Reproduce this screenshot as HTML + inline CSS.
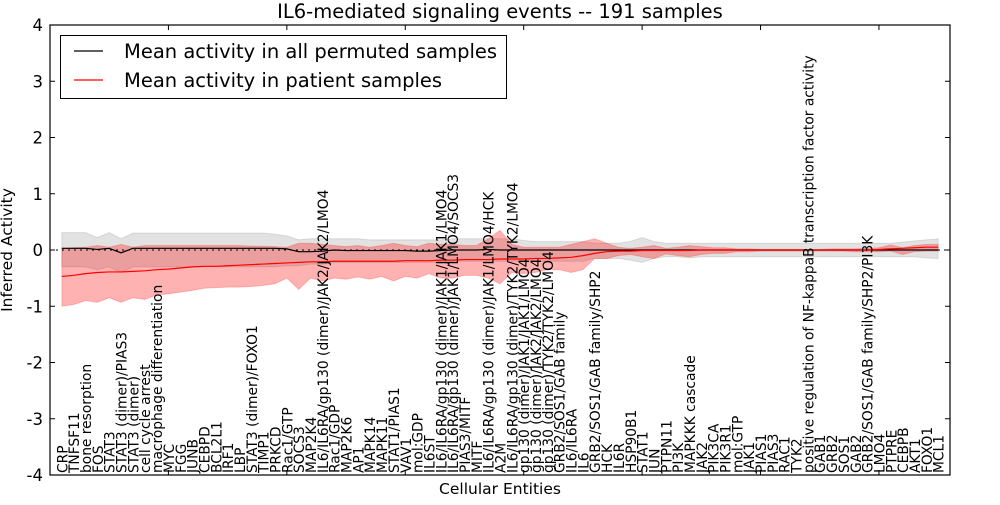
<!DOCTYPE html>
<html><head><meta charset="utf-8"><style>
body{margin:0;background:#fff;width:1000px;height:500px;overflow:hidden}
svg{font-family:"DejaVu Sans","Liberation Sans",sans-serif}
</style></head><body>
<svg id="chart" width="1000" height="500"></svg>
<script>
const categories=["CRP","TNFSF11","bone resorption","FOS","STAT3","STAT3 (dimer)/PIAS3","STAT3 (dimer)","cell cycle arrest","macrophage differentiation","MYC","FGG","JUNB","CEBPD","BCL2L1","IRF1","LBP","STAT3 (dimer)/FOXO1","TIMP1","PRKCD","Rac1/GTP","SOCS3","MAP2K4","IL6/IL6RA/gp130 (dimer)/JAK2/JAK2/LMO4","Rac1/GDP","MAP2K6","AP1","MAPK14","MAPK11","STAT1/PIAS1","VAV1","mol:GDP","IL6ST","IL6/IL6RA/gp130 (dimer)/JAK1/JAK1/LMO4","IL6/IL6RA/gp130 (dimer)/JAK1/LMO4/SOCS3","PIAS3/MITF","MITF","IL6/IL6RA/gp130 (dimer)/JAK1/LMO4/HCK","A2M","IL6/IL6RA/gp130 (dimer)/TYK2/TYK2/LMO4","gp130 (dimer)/JAK1/JAK1/LMO4","gp130 (dimer)/JAK2/JAK2/LMO4","gp130 (dimer)/TYK2/TYK2/LMO4","GRB2/SOS1/GAB family","IL6/IL6RA","IL6","GRB2/SOS1/GAB family/SHP2","HCK","IL6R","HSP90B1","STAT1","JUN","PTPN11","PI3K","MAPKKK cascade","JAK2","PIK3CA","PIK3R1","mol:GTP","JAK1","PIAS1","PIAS3","RAC1","TYK2","positive regulation of NF-kappaB transcription factor activity","GAB1","GRB2","SOS1","GAB2","GRB2/SOS1/GAB family/SHP2/PI3K","LMO4","PTPRE","CEBPB","AKT1","FOXO1","MCL1"];
const patientMean=[-0.47,-0.45,-0.42,-0.40,-0.39,-0.39,-0.38,-0.37,-0.35,-0.34,-0.32,-0.30,-0.29,-0.29,-0.28,-0.27,-0.26,-0.25,-0.24,-0.23,-0.22,-0.21,-0.21,-0.2,-0.2,-0.2,-0.2,-0.2,-0.2,-0.19,-0.19,-0.19,-0.18,-0.18,-0.17,-0.17,-0.17,-0.16,-0.16,-0.16,-0.15,-0.15,-0.14,-0.13,-0.10,-0.06,-0.03,-0.02,-0.02,-0.01,-0.01,-0.01,-0.01,-0.01,0,0,0,0,0,0,0,0,0,0,0,0,0,0,0,0.01,0.02,0.03,0.04,0.05,0.05];
const patientUpper=[0.03,0.04,0.05,0.08,0.05,0.1,0.05,0.08,0.08,0.08,0.08,0.08,0.08,0.08,0.08,0.08,0.07,0.07,0.06,0.05,0.12,0.12,0.1,0.08,0.06,0.08,0.05,0.08,0.12,0.08,0.06,0.12,0.1,0.1,0.08,0.08,0.2,0.35,0.1,0.05,0.05,0.05,0.05,0.1,0.15,0.2,0.12,0.05,0.03,0.05,0.08,0.03,0.05,0.08,0.06,0.04,0.04,0.02,0.02,0.01,0.01,0.01,0.01,0.01,0.01,0.02,0.02,0.02,0.03,0.04,0.09,0.04,0.08,0.1,0.1];
const patientLower=[-1.0,-0.97,-0.9,-0.93,-0.85,-0.93,-0.85,-0.88,-0.8,-0.78,-0.75,-0.72,-0.68,-0.67,-0.66,-0.66,-0.65,-0.63,-0.6,-0.5,-0.7,-0.5,-0.55,-0.5,-0.52,-0.48,-0.52,-0.47,-0.55,-0.47,-0.5,-0.42,-0.5,-0.5,-0.45,-0.45,-0.5,-0.6,-0.4,-0.42,-0.4,-0.35,-0.35,-0.4,-0.35,-0.15,-0.15,-0.1,-0.08,-0.12,-0.15,-0.07,-0.1,-0.12,-0.08,-0.06,-0.06,-0.03,-0.03,-0.02,-0.02,-0.02,-0.02,-0.02,-0.02,-0.02,-0.02,-0.03,-0.03,-0.03,-0.02,-0.08,-0.03,-0.02,-0.02];
const permMean=[0.03,0.03,0.03,0.01,0.03,-0.05,0.03,0.03,0.03,0.03,0.03,0.03,0.03,0.03,0.03,0.03,0.03,0.03,0.03,0.02,-0.03,-0.03,-0.02,0,-0.01,-0.01,-0.01,-0.01,-0.01,-0.01,-0.02,-0.02,-0.01,0,0,0,0.01,0,0,0,0,0,0,0,0,0,0,0,0,0,0,0,0,0,0,0,0,0,0,0,0,0,0,0,0,0,0,0,0,0,0,0,0,0,0];
const permUpper=[0.31,0.31,0.31,0.22,0.31,0.2,0.3,0.3,0.3,0.3,0.3,0.3,0.3,0.3,0.3,0.3,0.3,0.3,0.28,0.25,0.18,0.2,0.2,0.2,0.2,0.2,0.18,0.18,0.18,0.18,0.18,0.18,0.18,0.2,0.2,0.2,0.2,0.2,0.2,0.17,0.15,0.15,0.15,0.15,0.15,0.12,0.12,0.12,0.15,0.22,0.15,0.12,0.12,0.12,0.12,0.12,0.12,0.12,0.12,0.12,0.12,0.12,0.12,0.12,0.12,0.12,0.12,0.12,0.12,0.12,0.12,0.14,0.16,0.18,0.2];
const permLower=[-0.3,-0.3,-0.3,-0.35,-0.3,-0.4,-0.3,-0.3,-0.3,-0.3,-0.3,-0.3,-0.3,-0.3,-0.3,-0.3,-0.3,-0.3,-0.3,-0.28,-0.28,-0.25,-0.25,-0.22,-0.22,-0.22,-0.22,-0.22,-0.22,-0.22,-0.22,-0.22,-0.22,-0.2,-0.2,-0.2,-0.2,-0.2,-0.2,-0.2,-0.2,-0.2,-0.2,-0.2,-0.2,-0.15,-0.15,-0.15,-0.18,-0.22,-0.15,-0.12,-0.12,-0.14,-0.12,-0.12,-0.12,-0.12,-0.12,-0.12,-0.12,-0.12,-0.12,-0.12,-0.12,-0.12,-0.12,-0.12,-0.12,-0.12,-0.12,-0.12,-0.12,-0.14,-0.15];
const yTicks=[-4,-3,-2,-1,0,1,2,3,4];
const xTicks=[0,10,20,30,40,50,60,70];

const L=50,R=950,T=25,B=475;
const xs=v=>L+(v/76)*(R-L);
const ys=v=>T+(4-v)/8*(B-T);
const svg=document.getElementById('chart');
const NS='http://www.w3.org/2000/svg';
function mk(tag,attrs,parent){const e=document.createElementNS(NS,tag);for(const k in attrs)e.setAttribute(k,attrs[k]);(parent||svg).appendChild(e);return e;}
function band(up,lo){let d='';up.forEach((v,i)=>{d+=(i?'L':'M')+xs(i+1)+','+ys(v);});for(let i=lo.length-1;i>=0;i--)d+='L'+xs(i+1)+','+ys(lo[i]);return d+'Z';}
function line(arr){return arr.map((v,i)=>(i?'L':'M')+xs(i+1)+','+ys(v)).join('');}

let e;
e=mk('path',{d:band(permUpper,permLower),fill:'#bfbfbf','fill-opacity':0.45,stroke:'#999','stroke-opacity':0.3});


e=mk('path',{d:band(patientUpper,patientLower),fill:'#ff0000','fill-opacity':0.3,stroke:'#ff0000','stroke-opacity':0.2});


e=mk('line',{x1:L,x2:R,y1:ys(0),y2:ys(0),stroke:'#000','stroke-dasharray':'2,4','stroke-width':1});


e=mk('path',{d:line(permMean),fill:'none',stroke:'#000','stroke-width':1.2});


e=mk('path',{d:line(patientMean),fill:'none',stroke:'#ff0000','stroke-width':1.2});



categories.forEach((c,i)=>{
  const x=xs(i+1)+5.5, y=473;
  const t=mk('text',{x:x,y:y,transform:`rotate(-90 ${x} ${y})`,'font-size':13.8,fill:'#000'});
  t.textContent=c;
  
  
});

e=mk('rect',{x:L,y:T,width:R-L,height:B-T,fill:'none',stroke:'#000','stroke-width':1.2});


yTicks.forEach(v=>{
  mk('line',{x1:L,x2:L+5,y1:ys(v),y2:ys(v),stroke:'#000'});
  mk('line',{x1:R,x2:R-5,y1:ys(v),y2:ys(v),stroke:'#000'});
  const t=mk('text',{x:L-7,y:ys(v)+6,'text-anchor':'end','font-size':16.5});
  t.textContent=v;
  
  
});
xTicks.forEach(v=>{
  mk('line',{x1:xs(v),x2:xs(v),y1:T,y2:T+5,stroke:'#000'});
  mk('line',{x1:xs(v),x2:xs(v),y1:B,y2:B-5,stroke:'#000'});
});
e=mk('text',{x:500,y:18,'text-anchor':'middle','font-size':19.5});
e.textContent='IL6-mediated signaling events -- 191 samples';


e=mk('text',{x:500,y:494,'text-anchor':'middle','font-size':15.5});
e.textContent='Cellular Entities';


e=mk('text',{x:12,y:250,'text-anchor':'middle','font-size':15.5,transform:'rotate(-90 12 250)'});
e.textContent='Inferred Activity';



const g=mk('g',{});


mk('rect',{x:60.5,y:35.5,width:446,height:63,fill:'#fff',stroke:'#000'},g);
mk('line',{x1:74,x2:103,y1:51,y2:51,stroke:'#000','stroke-width':1.2},g);
mk('line',{x1:74,x2:103,y1:80,y2:80,stroke:'#ff0000','stroke-width':1.2},g);
e=mk('text',{x:124,y:58,'font-size':19.5},g);
e.textContent='Mean activity in all permuted samples';


e=mk('text',{x:124,y:87,'font-size':19.5},g);
e.textContent='Mean activity in patient samples';


</script>
</body></html>
